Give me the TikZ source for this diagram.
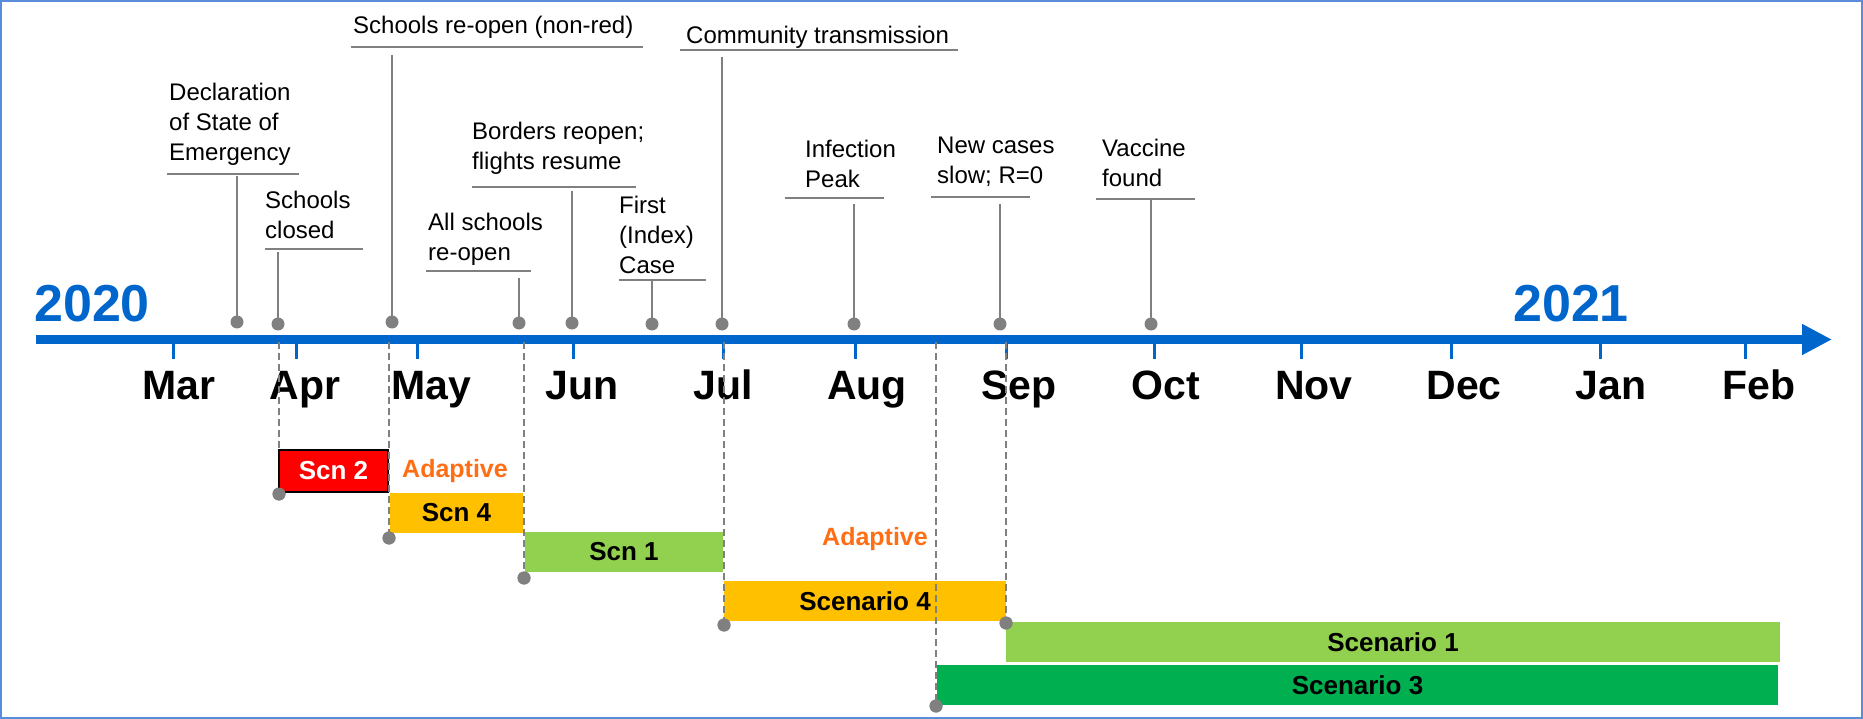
\documentclass[tikz,border=0pt]{standalone}
\usepackage{fontspec}
\setmainfont{Liberation Sans}
\usetikzlibrary{arrows.meta}
\definecolor{axisblue}{RGB}{0,102,204}
\definecolor{lgray}{RGB}{128,128,128}
\definecolor{framecol}{RGB}{90,140,220}
\definecolor{amber}{RGB}{255,192,0}
\definecolor{lgreen}{RGB}{146,208,80}
\definecolor{dgreen}{RGB}{0,176,80}
\definecolor{adapt}{RGB}{255,110,20}
\begin{document}
\begin{tikzpicture}[x=1pt,y=-1pt,
 evtext/.style={anchor=north west, inner sep=0pt, align=left, font=\fontsize{24}{30}\selectfont},
 monthlbl/.style={anchor=base, inner sep=0pt, font=\fontsize{41}{41}\selectfont\bfseries},
 yearlbl/.style={anchor=base west, inner sep=0pt, text=axisblue, font=\fontsize{52}{52}\selectfont\bfseries},
 scnbar/.style={rectangle, inner sep=0pt, font=\fontsize{26}{26}\selectfont\bfseries, text=black},
 adaptlbl/.style={anchor=base, inner sep=0pt, text=adapt, font=\fontsize{25}{25}\selectfont\bfseries},
 evdot/.style={circle, fill=lgray, inner sep=0pt, minimum size=13pt},
 stemline/.style={draw=lgray, line width=2pt},
 dashline/.style={draw=lgray, line width=1.6pt, dash pattern=on 7pt off 4pt},
 mtick/.style={draw=axisblue, line width=3pt},
]
\useasboundingbox (0,0) rectangle (1863,719);
\draw[framecol, line width=2pt] (1,1) rectangle (1862,718);

% axis
\coordinate (axisL) at (36,339.5);
\coordinate (axisR) at (1832,339.5);
\draw[axisblue, line width=9.5pt, -{Triangle[length=30pt,width=29pt]}] (axisL) -- (axisR);
\foreach \tx in {173,296,417,573,723,855,1006,1154,1301,1451,1600,1745}
  \draw[mtick] (\tx,340) -- (\tx,359);

% month labels
\node[monthlbl] (mMar) at (179,399) {Mar};
\node[monthlbl] (mApr) at (305,399) {Apr};
\node[monthlbl] (mMay) at (431,399) {May};
\node[monthlbl] (mJun) at (582,399) {Jun};
\node[monthlbl] (mJul) at (723,399) {Jul};
\node[monthlbl] (mAug) at (867,399) {Aug};
\node[monthlbl] (mSep) at (1019,399) {Sep};
\node[monthlbl] (mOct) at (1166,399) {Oct};
\node[monthlbl] (mNov) at (1314,399) {Nov};
\node[monthlbl] (mDec) at (1464,399) {Dec};
\node[monthlbl] (mJan) at (1611,399) {Jan};
\node[monthlbl] (mFeb) at (1759,399) {Feb};

% years
\node[yearlbl] (y2020) at (34,321) {2020};
\node[yearlbl] (y2021) at (1513,321) {2021};

% events: text
\node[evtext] (t1) at (169,79) {\strut Declaration\\of State of\\Emergency};
\node[evtext] (t2) at (265,187) {\strut Schools\\closed};
\node[evtext] (t3) at (353,12) {\strut Schools re-open (non-red)};
\node[evtext] (t4) at (428,209) {\strut All schools\\re-open};
\node[evtext] (t5) at (472,118) {\strut Borders reopen;\\flights resume};
\node[evtext] (t6) at (619,192) {\strut First\\(Index)\\Case};
\node[evtext] (t7) at (686,22) {\strut Community transmission};
\node[evtext] (t8) at (805,136) {\strut Infection\\Peak};
\node[evtext] (t9) at (937,132) {\strut New cases\\slow; R=0};
\node[evtext] (t10) at (1102,135) {\strut Vaccine\\found};

% underlines
\draw[stemline] (167,174) -- (299,174);
\draw[stemline] (265,249) -- (363,249);
\draw[stemline] (351,47) -- (643,47);
\draw[stemline] (426,271) -- (531,271);
\draw[stemline] (472,187) -- (636,187);
\draw[stemline] (619,280) -- (706,280);
\draw[stemline] (680,50) -- (958,50);
\draw[stemline] (785,198) -- (884,198);
\draw[stemline] (931,197) -- (1030,197);
\draw[stemline] (1096,199) -- (1195,199);

% event stems and dots
\coordinate (s1) at (237,176);  \node[evdot] (d1) at (237,322) {};
\coordinate (s2) at (278,252);  \node[evdot] (d2) at (278,324) {};
\coordinate (s3) at (392,55);   \node[evdot] (d3) at (392,322) {};
\coordinate (s4) at (519,278);  \node[evdot] (d4) at (519,323) {};
\coordinate (s5) at (572,191);  \node[evdot] (d5) at (572,323) {};
\coordinate (s6) at (652,281);  \node[evdot] (d6) at (652,324) {};
\coordinate (s7) at (722,57);   \node[evdot] (d7) at (722,324) {};
\coordinate (s8) at (854,204);  \node[evdot] (d8) at (854,324) {};
\coordinate (s9) at (1000,204); \node[evdot] (d9) at (1000,324) {};
\coordinate (s10) at (1151,200);\node[evdot] (d10) at (1151,324) {};
\foreach \i in {1,...,10} \draw[stemline] (s\i) -- (d\i.center);

% dashed phase lines (first one under the Scn 2 box)
\coordinate (p1) at (279,342);
\node[evdot] (q1) at (279,494) {};
\draw[dashline] (p1) -- (q1.center);

% bars
\node[scnbar, fill=red, draw=black, line width=2pt, text=white, minimum width=109pt, minimum height=42pt] (scn2) at (333.5,471) {Scn 2};
\node[scnbar, fill=amber, minimum width=133pt, minimum height=40pt] (scn4) at (456.5,513) {Scn 4};
\node[scnbar, fill=lgreen, minimum width=198pt, minimum height=40pt] (scn1) at (624,552) {Scn 1};
\node[scnbar, fill=amber, minimum width=282pt, minimum height=40pt] (sc4) at (865,601) {Scenario 4};
\node[scnbar, fill=lgreen, minimum width=774pt, minimum height=40pt] (sc1) at (1393,642) {Scenario 1};
\node[scnbar, fill=dgreen, minimum width=841pt, minimum height=40pt] (sc3) at (1357.5,685) {Scenario 3};

\node[adaptlbl] (ad1) at (455,477) {Adaptive};
\node[adaptlbl] (ad2) at (875,545) {Adaptive};

\coordinate (p2) at (389,342); \coordinate (p3) at (524,342);
\coordinate (p4) at (724,342); \coordinate (p5) at (936,342);
\coordinate (p6) at (1006,342);
\node[evdot] (q2) at (389,538) {};
\node[evdot] (q3) at (524,578) {};
\node[evdot] (q4) at (724,625) {};
\node[evdot] (q5) at (936,706) {};
\node[evdot] (q6) at (1006,623) {};
\foreach \i in {2,...,6} \draw[dashline] (p\i) -- (q\i.center);
\foreach \i in {1,...,6} \fill[lgray] (q\i) circle (6.5pt);
\end{tikzpicture}
\end{document}
